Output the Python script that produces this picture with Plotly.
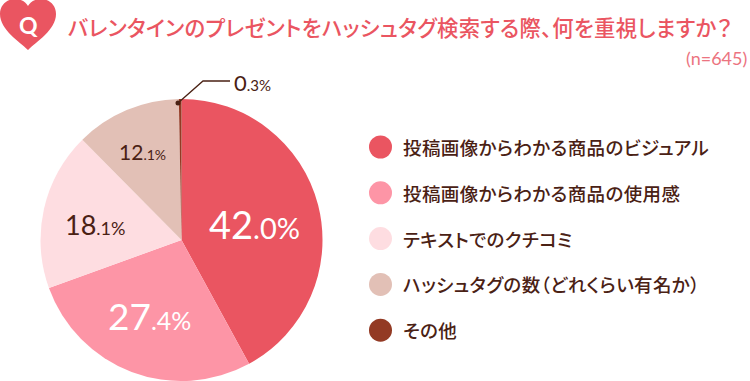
import plotly.graph_objects as go

categories = ["投稿画像からわかる商品のビジュアル", "投稿画像からわかる商品の使用感", "テキストでのクチコミ", "ハッシュタグの数（どれくらい有名か）", "その他"]
values = [42.0, 27.4, 18.1, 12.1, 0.3]
colors = ["#EA5561", "#FD95A6", "#FEDDE1", "#E2C0B6", "#933A24"]
title = "バレンタインのプレゼントをハッシュタグ検索する際、何を重視しますか？"
note = "(n=645)"
W, H = 750, 381
CJK = "Noto Sans CJK JP"
NUM = "Lato"
DARK = "#4A2114"

def px(x): return x / W
def py(y): return 1 - y / H

fig = go.Figure(go.Pie(
    labels=categories, values=values, sort=False, direction="clockwise", rotation=0,
    marker=dict(colors=colors, line=dict(width=0)), textinfo="none", hoverinfo="label+percent",
    showlegend=False, domain=dict(x=[px(40.5), px(322.5)], y=[py(381), py(99)]),
))

shapes = []
ann = []
def text(x, y, s, size, color, font=CJK, anchor="left", weight=None):
    ann.append(dict(x=px(x), y=py(y), xref="paper", yref="paper", text=s, showarrow=False, xanchor=anchor,
                    yanchor="middle", align=anchor, font=dict(size=size, color=color, family=font, weight=weight),
                    borderpad=0, borderwidth=0))

def pct(x, y, v, big, small, color):
    a, b = f"{v:.1f}".split(".")
    text(x, y, f'{a}<span style="font-size:{small}px">.{b}%</span>', big, color, font=NUM, anchor="center")

# heart badge
shapes.append(dict(type="path", xref="paper", yref="paper", fillcolor="#EA5561", line=dict(width=0),
    path=f"M {px(28)} {py(50)} C {px(20)} {py(42)} {px(0)} {py(30)} {px(0)} {py(14)} "
         f"C {px(0)} {py(4)} {px(8)} {py(-1)} {px(15)} {py(-1)} C {px(21)} {py(-1)} {px(26)} {py(2)} {px(28)} {py(6)} "
         f"C {px(30)} {py(2)} {px(35)} {py(-1)} {px(41)} {py(-1)} C {px(48)} {py(-1)} {px(56)} {py(4)} {px(56)} {py(14)} "
         f"C {px(56)} {py(30)} {px(36)} {py(42)} {px(28)} {py(50)} Z"))
text(28, 25, "<b>Q</b>", 23, "white", font="Lato", anchor="center")
text(68, 27, title, 21.3, "#EA5561", weight=500)
text(747, 58, note, 18, "#EC7480", font="Lato", anchor="right")

# leader for the smallest slice
shapes.append(dict(type="path", xref="paper", yref="paper", line=dict(color=DARK, width=1.3),
    path=f"M {px(178)} {py(103)} L {px(203)} {py(81)} L {px(230)} {py(81)}"))
shapes.append(dict(type="circle", xref="paper", yref="paper", fillcolor=DARK, line=dict(width=0),
    x0=px(175.5), x1=px(180.5), y0=py(100.5), y1=py(105.5)))
pct(252.5, 82, values[4], 22, 15, DARK)

pct(254.5, 224, values[0], 38, 29, "white")
pct(149.5, 315, values[1], 37, 25, "white")
pct(95, 224, values[2], 27, 18, DARK)
pct(142, 151, values[3], 21, 14, DARK)

# legend
for i, (c, col) in enumerate(zip(categories, colors)):
    y = 147 + 45.8 * i
    shapes.append(dict(type="circle", xref="paper", yref="paper", fillcolor=col, line=dict(width=0),
                       x0=px(369), x1=px(392), y0=py(y - 11.5), y1=py(y + 11.5)))
    text(403, y, c, 18.5, DARK, weight=500)

fig.update_layout(width=W, height=H, margin=dict(l=0, r=0, t=0, b=0), paper_bgcolor="white",
                  plot_bgcolor="white", shapes=shapes, annotations=ann, showlegend=False)
fig.write_html("out.html", config=dict(displayModeBar=False),
               post_script="document.body.style.margin='0';document.body.style.overflow='hidden';"
                           "var s=document.createElement('style');"
                           "s.textContent='.annotation-text{font-feature-settings:\"palt\" 1;}"
                           ".annotation-text[style*=\"CJK\"]{letter-spacing:0.4px;}';"
                           "document.head.appendChild(s);")
